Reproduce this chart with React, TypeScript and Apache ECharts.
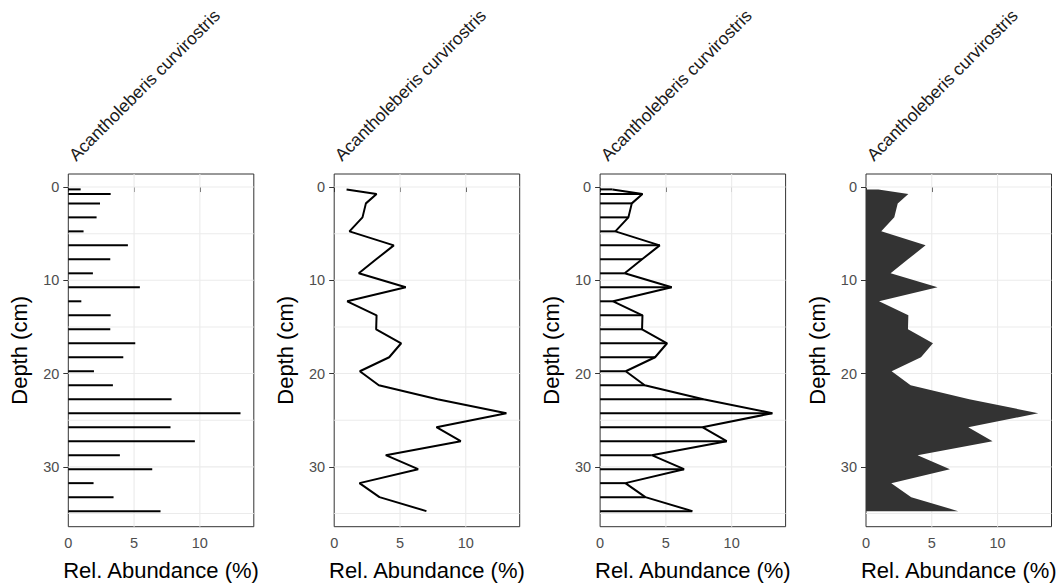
import React, { useEffect, useRef } from "react";
import * as echarts from "echarts";

const taxon = "Acantholeberis curvirostris";
const depths = [0.25, 0.75, 1.75, 3.25, 4.75, 6.25, 7.75, 9.25, 10.75, 12.25, 13.75, 15.25, 16.75, 18.25, 19.75, 21.25, 22.75, 24.25, 25.75, 27.25, 28.75, 30.25, 31.75, 33.25, 34.75];
const abundance = [0.94, 3.22, 2.41, 2.15, 1.16, 4.53, 3.19, 1.87, 5.44, 0.99, 3.22, 3.19, 5.09, 4.18, 1.95, 3.39, 7.85, 13.09, 7.77, 9.62, 3.92, 6.38, 1.92, 3.44, 7.01];
const xTicks = [0, 5, 10];
const yTicks = [0, 10, 20, 30];
const xGrid = [5, 10];
const yGrid = [0, 5, 10, 15, 20, 25, 30, 35];
const X_MIN = 0;
const X_MAX = 14.1;
const Y_MIN = -1.4;
const Y_MAX = 36.42;

const FONT = "'Liberation Sans', Arial, Helvetica, sans-serif";
const PANEL_LEFT = 68.3;
const PANEL_STEP = 265.9;
const PANEL_W = 185.5;
const PANEL_TOP = 174;
const PANEL_H = 352.7;

export default function App() {
  const ref = useRef<HTMLDivElement>(null);
  useEffect(() => {
    if (!ref.current) return;
    const chart = echarts.init(ref.current, null, { renderer: "svg" });
    const pts = depths.map((d, i) => [abundance[i], d]);

    const grids: any[] = [];
    const xAxes: any[] = [];
    const yAxes: any[] = [];
    const series: any[] = [];
    const graphics: any[] = [];

    for (let p = 0; p < 4; p++) {
      const left = PANEL_LEFT + p * PANEL_STEP;
      grids.push({
        left,
        top: PANEL_TOP,
        width: PANEL_W,
        height: PANEL_H,
        show: true,
        borderColor: "#333333",
        borderWidth: 1,
        backgroundColor: "transparent",
        containLabel: false,
        outerBoundsMode: "none",
      });
      xAxes.push({
        gridIndex: p,
        type: "value",
        min: X_MIN,
        max: X_MAX,
        interval: 5,
        axisLine: { show: false },
        axisTick: { show: true, length: 5, customValues: xTicks, lineStyle: { color: "#333333", width: 1 } },
        axisLabel: { customValues: xTicks, color: "#4D4D4D", fontSize: 14.5, fontFamily: FONT, margin: 9 },
        splitLine: { show: false },
        name: "Rel. Abundance (%)",
        nameLocation: "middle",
        nameGap: 33,
        nameTextStyle: { fontSize: 22, color: "#000000", fontFamily: FONT },
      });
      yAxes.push({
        gridIndex: p,
        type: "value",
        inverse: true,
        min: Y_MIN,
        max: Y_MAX,
        axisLine: { show: false },
        axisTick: { show: true, length: 5, customValues: yTicks, lineStyle: { color: "#333333", width: 1 } },
        axisLabel: { customValues: yTicks, color: "#4D4D4D", fontSize: 14.5, fontFamily: FONT, margin: 9 },
        splitLine: { show: false },
        name: "Depth (cm)",
        nameLocation: "middle",
        nameGap: 38,
        nameRotate: 90,
        nameTextStyle: { fontSize: 22, color: "#000000", fontFamily: FONT },
      });
      series.push({
        type: "custom",
        xAxisIndex: p,
        yAxisIndex: p,
        silent: true,
        z: 1,
        data: [[0, 0]],
        renderItem: (params: any, api: any) => {
          const children: any[] = [];
          yGrid.forEach((y) => {
            const a = api.coord([X_MIN, y]);
            const b = api.coord([X_MAX, y]);
            children.push({ type: "line", shape: { x1: a[0], y1: a[1], x2: b[0], y2: b[1] }, style: { stroke: "#EBEBEB", lineWidth: 1.1 } });
          });
          xGrid.forEach((x) => {
            const a = api.coord([x, Y_MIN]);
            const b = api.coord([x, Y_MAX]);
            children.push({ type: "line", shape: { x1: a[0], y1: a[1], x2: b[0], y2: b[1] }, style: { stroke: "#EBEBEB", lineWidth: 1.1 } });
          });
          return { type: "group", children };
        },
      });
      if (p === 0 || p === 2) {
        series.push({
          type: "custom",
          xAxisIndex: p,
          yAxisIndex: p,
          silent: true,
          z: 3,
          data: pts,
          renderItem: (params: any, api: any) => {
            const a = api.coord([0, api.value(1)]);
            const b = api.coord([api.value(0), api.value(1)]);
            return { type: "line", shape: { x1: a[0], y1: a[1], x2: b[0], y2: b[1] }, style: { stroke: "#000000", lineWidth: 2 } };
          },
        });
      }
      if (p === 1 || p === 2) {
        series.push({
          type: "line",
          xAxisIndex: p,
          yAxisIndex: p,
          silent: true,
          z: 4,
          data: pts,
          showSymbol: false,
          symbol: "none",
          lineStyle: { color: "#000000", width: 2 },
        });
      }
      if (p === 3) {
        series.push({
          type: "custom",
          xAxisIndex: p,
          yAxisIndex: p,
          silent: true,
          z: 3,
          data: pts,
          renderItem: (params: any, api: any) => {
            if (params.dataIndex !== 0) return null;
            const points: number[][] = [];
            points.push(api.coord([0, depths[0]]));
            pts.forEach((q) => points.push(api.coord(q)));
            points.push(api.coord([0, depths[depths.length - 1]]));
            return { type: "polygon", shape: { points }, style: { fill: "#333333", stroke: "none" } };
          },
        });
      }
      graphics.push({
        type: "text",
        x: left + 10,
        y: 164,
        rotation: Math.PI / 4,
        style: {
          text: taxon,
          fill: "#1A1A1A",
          font: `17.5px ${FONT}`,
          align: "left",
          verticalAlign: "bottom",
        },
      });
    }

    chart.setOption({
      animation: false,
      backgroundColor: "#ffffff",
      grid: grids,
      xAxis: xAxes,
      yAxis: yAxes,
      series,
      graphic: graphics,
    });
    return () => chart.dispose();
  }, []);
  return <div ref={ref} style={{ position: "fixed", left: 0, top: 0, width: 1063, height: 583 }} />;
}
